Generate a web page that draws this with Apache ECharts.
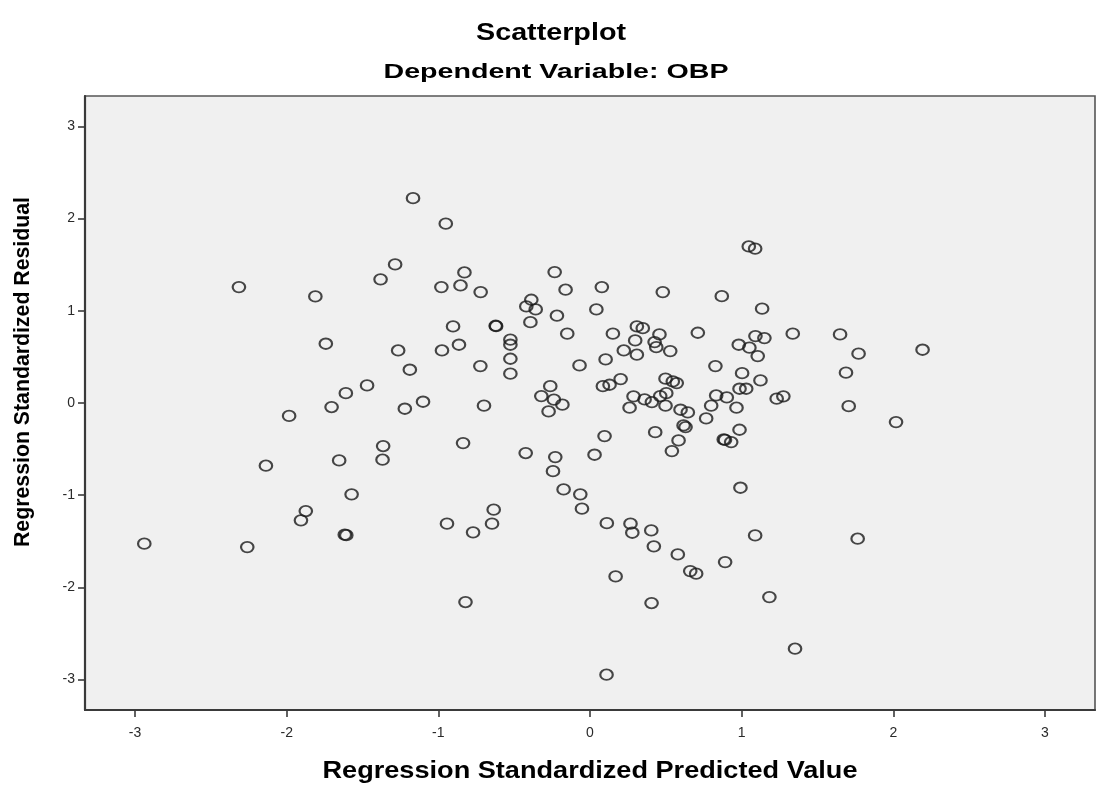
<!DOCTYPE html>
<html>
<head>
<meta charset="utf-8">
<script src="https://cdn.jsdelivr.net/npm/echarts@6/dist/echarts.min.js"></script>
<style>
html,body{margin:0;padding:0;background:#fff;}
#chart{width:1102px;height:788px;}
</style>
</head>
<body>
<div id="chart"></div>
<script>
// Regression Standardized Predicted Value (x) and Regression Standardized Residual (y)
var predicted = [
 -2.315,-2.939,-2.260,-2.137,-1.984,-1.811,-1.906,-1.874,-1.742,-1.704,
 -1.654,-1.610,-1.617,-1.607,-1.572,-1.470,-1.381,-1.364,-1.368,-1.285,
 -1.265,-1.221,-1.188,-1.167,-1.101,
 -0.951,-0.828,-0.980,-0.854,-0.721,-0.233,-0.161,0.078,0.480,0.869,
 -0.387,-0.420,-0.358,0.042,-0.218,-0.393,-0.903,-0.622,-0.619,-0.150,
 0.151,0.309,0.348,0.458,0.711,0.298,0.426,0.437,0.529,0.223,
 0.309,0.981,-0.525,-0.525,-0.525,-0.525,-0.976,-0.864,-0.723,-0.069,
 0.103,0.827,1.003,0.202,0.085,0.129,0.498,0.546,0.572,-0.262,
 0.986,1.030,-0.321,-0.238,-0.182,-0.273,-0.699,0.287,0.360,0.408,
 0.463,0.503,0.261,0.498,0.597,0.645,0.799,0.832,0.902,0.766,0.966,
 -0.837,-0.424,-0.229,-0.244,0.096,0.030,0.430,0.617,0.630,0.584,
 0.540,0.882,0.890,0.931,0.986,0.992,-0.174,-0.064,-0.053,-0.635,
 -0.646,-0.943,-0.771,0.111,0.267,0.279,0.404,0.421,0.579,0.661,
 0.700,0.891,0.169,-0.821,0.406,0.109,
 1.047,1.089,1.135,1.337,1.649,2.193,1.771,1.091,1.150,1.051,
 1.106,1.688,1.124,1.231,1.275,1.706,2.018,1.089,1.765,1.183,1.352
];
var residual = [
 1.257,-1.526,-1.563,-0.680,-0.140,1.156,-1.273,-1.172,0.643,-0.044,
 -0.623,0.107,-1.428,-1.434,-0.991,0.191,1.341,-0.467,-0.615,1.503,
 0.570,-0.062,0.361,2.222,0.014,
 1.945,1.416,1.257,1.275,1.203,1.420,1.229,1.257,1.203,1.159,
 1.120,1.048,1.015,1.015,0.947,0.877,0.831,0.838,0.833,0.752,
 0.752,0.831,0.812,0.744,0.762,0.679,0.661,0.606,0.563,0.570,
 0.524,0.632,0.687,0.632,0.480,0.318,0.570,0.632,0.400,0.408,
 0.473,0.400,0.324,0.259,0.183,0.198,0.264,0.234,0.216,0.183,
 0.155,0.155,0.075,0.036,-0.018,-0.091,-0.029,0.072,0.039,0.010,
 0.075,0.107,-0.051,-0.029,-0.073,-0.102,-0.029,0.082,0.061,-0.167,-0.051,
 -0.435,-0.543,-0.587,-0.739,-0.359,-0.561,-0.316,-0.243,-0.261,-0.406,
 -0.522,-0.395,-0.400,-0.424,-0.290,-0.919,-0.937,-0.991,-1.146,-1.157,
 -1.309,-1.309,-1.403,-1.303,-1.309,-1.407,-1.382,-1.555,-1.642,-1.823,
 -1.851,-1.726,-1.881,-2.159,-2.170,-2.947,
 1.698,1.674,1.023,0.752,0.744,0.578,0.535,0.726,0.704,0.600,
 0.509,0.329,0.245,0.047,0.072,-0.034,-0.207,-1.436,-1.472,-2.105,-2.665
];
var tickValues = [-3,-2,-1,0,1,2,3];
var titleText = 'Scatterplot';
var subtitleText = 'Dependent Variable: OBP';
var xAxisTitle = 'Regression Standardized Predicted Value';
var yAxisTitle = 'Regression Standardized Residual';

var points = predicted.map(function(v,i){ return [v, residual[i]]; });

var FONT = '"Liberation Sans", Arial, sans-serif';
var mctx = document.createElement('canvas').getContext('2d');
function stretch(text, size, weight, target){
  mctx.font = weight + ' ' + size + 'px ' + FONT;
  return target / mctx.measureText(text).width;
}

function hText(text, x, y, size, weight, targetW){
  return {
    type:'text', x:x, y:y, scaleX: stretch(text,size,weight,targetW), silent:true,
    style:{text:text, font: weight+' '+size+'px '+FONT, fill:'#000', align:'center', verticalAlign:'middle'}
  };
}

var chart = echarts.init(document.getElementById('chart'), null, {renderer:'canvas'});
var axisCommon = {
  type:'value', min:-3.33, max:3.33,
  splitLine:{show:false},
  axisLine:{show:true, onZero:false, lineStyle:{color:'#3a3a3a', width:2.2}},
  axisTick:{show:true, customValues:tickValues, length:7, lineStyle:{color:'#3a3a3a', width:1.6}},
  axisLabel:{customValues:tickValues, color:'#2a2a2a', fontSize:14, fontFamily:FONT}
};
chart.setOption({
  backgroundColor:'#ffffff',
  animation:false,
  grid:{left:85, right:7, top:96, bottom:78, show:true, backgroundColor:'#f0f0f0', borderColor:'#555', borderWidth:1.6},
  xAxis: Object.assign({}, axisCommon, {axisLabel:Object.assign({}, axisCommon.axisLabel, {margin:16})}),
  yAxis: Object.assign({}, axisCommon, {axisLabel:Object.assign({}, axisCommon.axisLabel, {margin:10})}),
  graphic:[
    hText(titleText, 551, 34, 23, 'bold', 150),
    hText(subtitleText, 556, 72, 20, 'bold', 345),
    hText(xAxisTitle, 590, 772, 23, 'bold', 535),
    {
      type:'text', x:23, y:372, rotation:Math.PI/2, silent:true,
      scaleY: 1.1, scaleX: stretch(yAxisTitle,20,'bold',350),
      style:{text:yAxisTitle, font:'bold 20px '+FONT, fill:'#000', align:'center', verticalAlign:'middle'}
    }
  ],
  series:[{
    type:'scatter',
    data:points,
    symbol:'path://M0,10A10,10 0 1 1 20,10A10,10 0 1 1 0,10Z',
    symbolSize:[12.5,10.5],
    itemStyle:{color:'transparent', borderColor:'#1a1a1a', borderWidth:2},
    emphasis:{disabled:true}
  }]
});
</script>
</body>
</html>
